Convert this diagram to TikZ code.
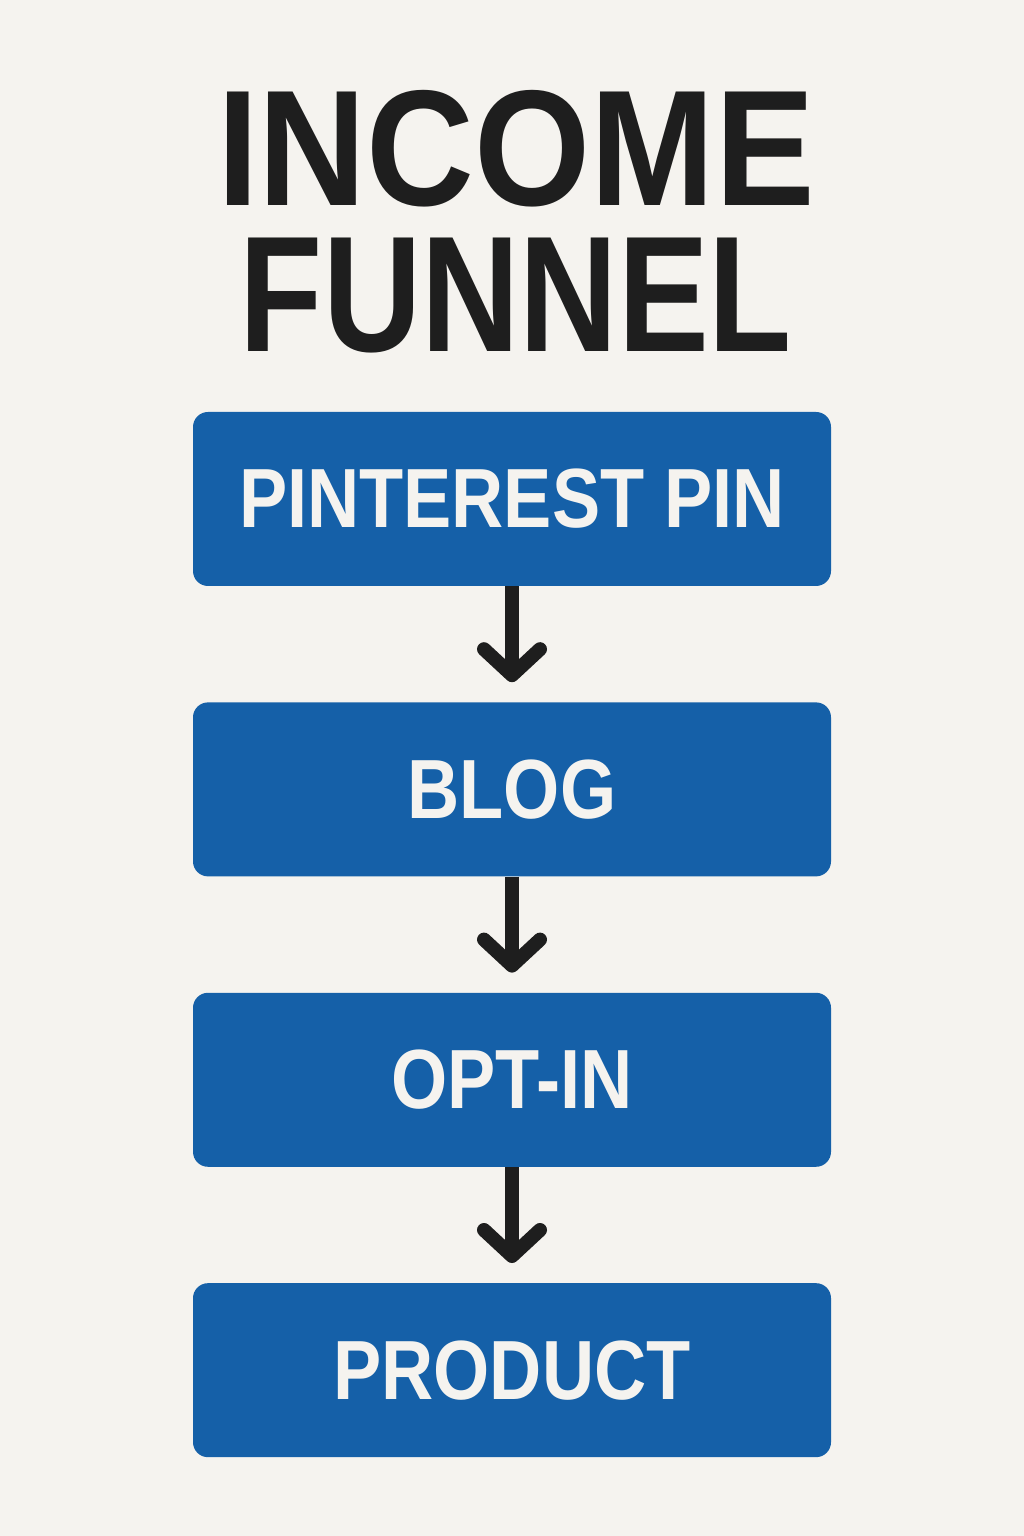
\documentclass[tikz,border=0pt]{standalone}
\usepackage{fontspec}
\usepackage{tikz}
\usetikzlibrary{positioning,arrows.meta}
\newfontfamily\incomefont{Liberation Sans}[FakeStretch=0.905]
\newfontfamily\funnelfont{Liberation Sans}[FakeStretch=0.825]
\newfontfamily\boxfont{Liberation Sans}[FakeStretch=0.86]
\definecolor{paper}{HTML}{F5F3EF}
\definecolor{funnelblue}{HTML}{1560A8}
\definecolor{ink}{HTML}{1E1E1E}
\tikzset{stage/.style={rectangle,fill=funnelblue,rounded corners=15pt,inner sep=0pt,
	 minimum width=638pt,minimum height=174pt,text=paper,
	 font=\boxfont\bfseries\fontsize{84}{84}\selectfont},
	 flow/.style={ink,line width=14pt,shorten >=20pt,
	 -{Straight Barb[length=26pt,width=56pt,round]}},
	 title/.style={anchor=north,text=ink,inner sep=0pt,align=center,
	 font=\bfseries\fontsize{165}{146}\selectfont},
	 node distance = 116pt
	 }

\begin{document}
\begin{tikzpicture}[x=1pt,y=1pt]
      \fill[paper] (0,0) rectangle (1024,1536);
      \useasboundingbox (0,0) rectangle (1024,1536);
      \node[title] (heading) at (516,1446) {{\incomefont INCOME}\\{\funnelfont FUNNEL}};
      \node[stage] (pin) at (512,1037) {PINTEREST PIN};
      \node[stage,below=of pin] (blog) {BLOG};
      \node[stage,below=of blog] (optin) {OPT-IN};
      \node[stage,below=of optin] (product) {PRODUCT};
      \draw[flow] (pin) -- (blog);
      \draw[flow] (blog) -- (optin);
      \draw[flow] (optin) -- (product);
  \end{tikzpicture}
\end{document}
